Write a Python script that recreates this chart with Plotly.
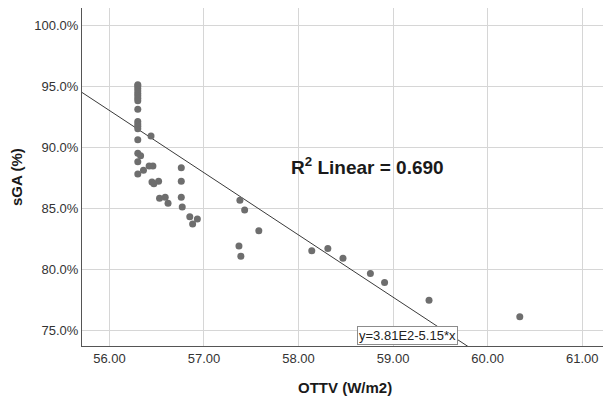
import plotly.graph_objects as go

ottv = [56.30, 56.30, 56.30, 56.30, 56.30, 56.30, 56.30, 56.30, 56.30,
        56.30, 56.30, 56.30, 56.30, 56.30, 56.30, 56.30, 56.30, 56.33,
        56.44, 56.36, 56.42, 56.46, 56.45, 56.47, 56.52, 56.53, 56.59, 56.62,
        56.76, 56.76, 56.76, 56.77, 56.85, 56.88, 56.93,
        57.38, 57.43, 57.58, 57.37, 57.39,
        58.14, 58.31, 58.47, 58.76, 58.91, 59.38, 60.34]
sga = [95.0, 94.8, 94.6, 94.4, 94.2, 94.0, 93.8, 93.1, 92.1, 91.9, 91.7, 91.5,
       90.6, 89.5, 88.8, 87.8, 95.1, 89.3,
       90.9, 88.1, 88.45, 88.45, 87.15, 87.0, 87.2, 85.8, 85.9, 85.4,
       88.3, 87.2, 85.9, 85.1, 84.3, 83.7, 84.1,
       85.65, 84.85, 83.15, 81.9, 81.05,
       81.5, 81.7, 80.9, 79.65, 78.9, 77.45, 76.1]

fit_intercept = 378.6
fit_slope = -5.10
x_range = [55.71, 61.22]
y_range = [73.7, 101.4]
y_ticks = [75, 80, 85, 90, 95, 100]
y_ticktext = ["75.0%", "80.0%", "85.0%", "90.0%", "95.0%", "100.0%"]
x_ticks = [56, 57, 58, 59, 60, 61]
x_ticktext = ["56.00", "57.00", "58.00", "59.00", "60.00", "61.00"]

font = "Liberation Sans, Arial, sans-serif"
plot_l, plot_r, plot_t, plot_b = 82, 603, 8, 346


def px(xp):
    return (xp - plot_l) / (plot_r - plot_l)


def py(yp):
    return (plot_b - yp) / (plot_b - plot_t)


fig = go.Figure()
fig.add_trace(go.Scatter(
    x=x_range, y=[fit_intercept + fit_slope * v for v in x_range],
    mode="lines", line=dict(color="#3a3a3a", width=1), hoverinfo="skip",
    showlegend=False))
fig.add_trace(go.Scatter(
    x=ottv, y=sga, mode="markers",
    marker=dict(color="#6e6e6e", size=7, line=dict(width=0)),
    showlegend=False))

fig.add_annotation(x=px(289), y=py(166), xref="paper", yref="paper",
                   text="<b>R<sup>2</sup> Linear = 0.690</b>", showarrow=False,
                   xanchor="left", yanchor="middle",
                   font=dict(family=font, size=19, color="#1a1a1a"))
fig.add_annotation(x=59.15, y=74.55, text="y=3.81E2-5.15*x", showarrow=False,
                   xanchor="center", yanchor="middle",
                   font=dict(family=font, size=13, color="#222"),
                   bgcolor="white", bordercolor="#8c8c8c", borderwidth=1,
                   borderpad=1)
fig.add_annotation(x=px(345), y=py(387), xref="paper", yref="paper",
                   text="<b>OTTV (W/m2)</b>",
                   showarrow=False, xanchor="center", yanchor="middle",
                   font=dict(family=font, size=15, color="#1a1a1a"))
fig.add_annotation(x=px(16), y=0.5, xref="paper", yref="paper",
                   text="<b>sGA (%)</b>",
                   textangle=-90, showarrow=False, xanchor="center",
                   yanchor="middle",
                   font=dict(family=font, size=15, color="#1a1a1a"))

fig.update_layout(
    width=603, height=396,
    margin=dict(l=plot_l, r=603 - plot_r, t=plot_t, b=396 - plot_b,
                autoexpand=False),
    paper_bgcolor="white", plot_bgcolor="white",
    font=dict(family=font, size=13, color="#333"),
    xaxis=dict(range=x_range, tickvals=x_ticks, ticktext=x_ticktext,
               showgrid=True, gridcolor="#d6d6d6", gridwidth=1,
               showline=True, linecolor="#555", linewidth=1,
               zeroline=False, ticks="", automargin=False),
    yaxis=dict(range=y_range, tickvals=y_ticks, ticktext=y_ticktext,
               showgrid=True, gridcolor="#d6d6d6", gridwidth=1,
               showline=True, linecolor="#555", linewidth=1,
               zeroline=False, ticks="", automargin=False),
)

fig.write_html("out.html", config={"displayModeBar": False},
               post_script="document.body.style.margin='0';"
                           "document.body.style.overflow='hidden';")
